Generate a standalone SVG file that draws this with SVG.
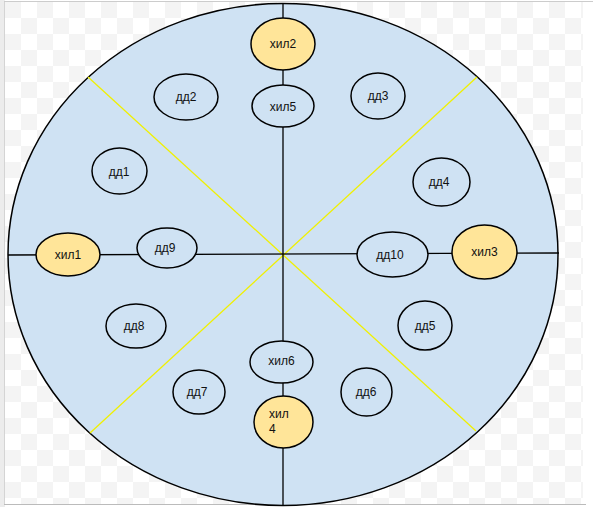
<svg xmlns="http://www.w3.org/2000/svg" width="593" height="507" viewBox="0 0 593 507">
<defs>
<pattern id="chk" x="5" y="2" width="32" height="32" patternUnits="userSpaceOnUse">
<rect width="32" height="32" fill="#ffffff"/>
<rect width="16" height="16" fill="#f4f4f4"/>
<rect x="16" y="16" width="16" height="16" fill="#f4f4f4"/>
</pattern>
<style>
.node ellipse{stroke:#000;stroke-width:1.5}
.hil{fill:#ffe599}
.dd{fill:#cfe2f3}
text{font-family:"Liberation Sans",Arial,sans-serif;font-size:12px;fill:#111;text-anchor:middle}
.ax{stroke:#000;stroke-width:1.3;fill:none}
.yl{stroke:#f0f000;stroke-width:1.3;fill:none}
</style>
</defs>
<rect width="593" height="507" fill="#ffffff"/>
<rect x="5" y="2" width="578" height="502" fill="url(#chk)"/>
<rect x="0" y="0" width="5" height="507" fill="#ececec"/>
<line x1="4.5" y1="1" x2="4.5" y2="505" stroke="#d4d4d4"/>
<line x1="4" y1="1.5" x2="593" y2="1.5" stroke="#cccccc"/>
<line x1="4" y1="504.5" x2="586" y2="504.5" stroke="#bbbbbb"/>
<ellipse id="field" cx="283" cy="254.5" rx="275" ry="251" fill="#cfe2f3" stroke="#000" stroke-width="1.5"/>
<g id="connectors">
<line class="yl" x1="88" y1="77" x2="476" y2="431"/>
<line class="yl" x1="477" y1="77" x2="90" y2="433"/>
<line class="ax" x1="283" y1="4" x2="283" y2="505"/>
<line class="ax" x1="8" y1="255" x2="559" y2="253"/>
</g>
<g id="n-hil2" class="node"><ellipse class="hil" cx="283" cy="44" rx="32" ry="26"/><text x="283" y="48">хил2</text></g>
<g id="n-hil5" class="node"><ellipse class="dd" cx="283" cy="106" rx="31" ry="21"/><text x="283" y="111">хил5</text></g>
<g id="n-hil6" class="node"><ellipse class="dd" cx="281.5" cy="362" rx="31.5" ry="21"/><text x="281.5" y="365">хил6</text></g>
<g id="n-hil4" class="node"><ellipse class="hil" cx="283.5" cy="422" rx="29.5" ry="26"/><text x="269" y="418" style="text-anchor:start">хил</text><text x="269" y="433" style="text-anchor:start">4</text></g>
<g id="n-hil1" class="node"><ellipse class="hil" cx="68" cy="254.5" rx="32" ry="21.5"/><text x="68" y="259">хил1</text></g>
<g id="n-hil3" class="node"><ellipse class="hil" cx="484.5" cy="252" rx="32.5" ry="27"/><text x="484.5" y="256">хил3</text></g>
<g id="n-dd9" class="node"><ellipse class="dd" cx="167" cy="248" rx="30" ry="20"/><text x="165" y="252">дд9</text></g>
<g id="n-dd10" class="node"><ellipse class="dd" cx="392.5" cy="254.5" rx="35.5" ry="22.5"/><text x="390" y="259">дд10</text></g>
<g id="n-dd2" class="node"><ellipse class="dd" cx="186" cy="97" rx="32" ry="23"/><text x="186" y="101">дд2</text></g>
<g id="n-dd3" class="node"><ellipse class="dd" cx="378" cy="96" rx="27" ry="23"/><text x="378" y="100">дд3</text></g>
<g id="n-dd1" class="node"><ellipse class="dd" cx="119.5" cy="171" rx="27.5" ry="23"/><text x="119" y="176">дд1</text></g>
<g id="n-dd4" class="node"><ellipse class="dd" cx="441.5" cy="182" rx="28.5" ry="24"/><text x="439" y="186">дд4</text></g>
<g id="n-dd8" class="node"><ellipse class="dd" cx="136" cy="326" rx="30" ry="22"/><text x="134" y="330">дд8</text></g>
<g id="n-dd5" class="node"><ellipse class="dd" cx="425" cy="325.5" rx="27" ry="24.5"/><text x="425" y="330">дд5</text></g>
<g id="n-dd7" class="node"><ellipse class="dd" cx="199" cy="392" rx="26" ry="22"/><text x="197" y="396">дд7</text></g>
<g id="n-dd6" class="node"><ellipse class="dd" cx="366.5" cy="392" rx="25.5" ry="24"/><text x="366" y="396">дд6</text></g>
</svg>
